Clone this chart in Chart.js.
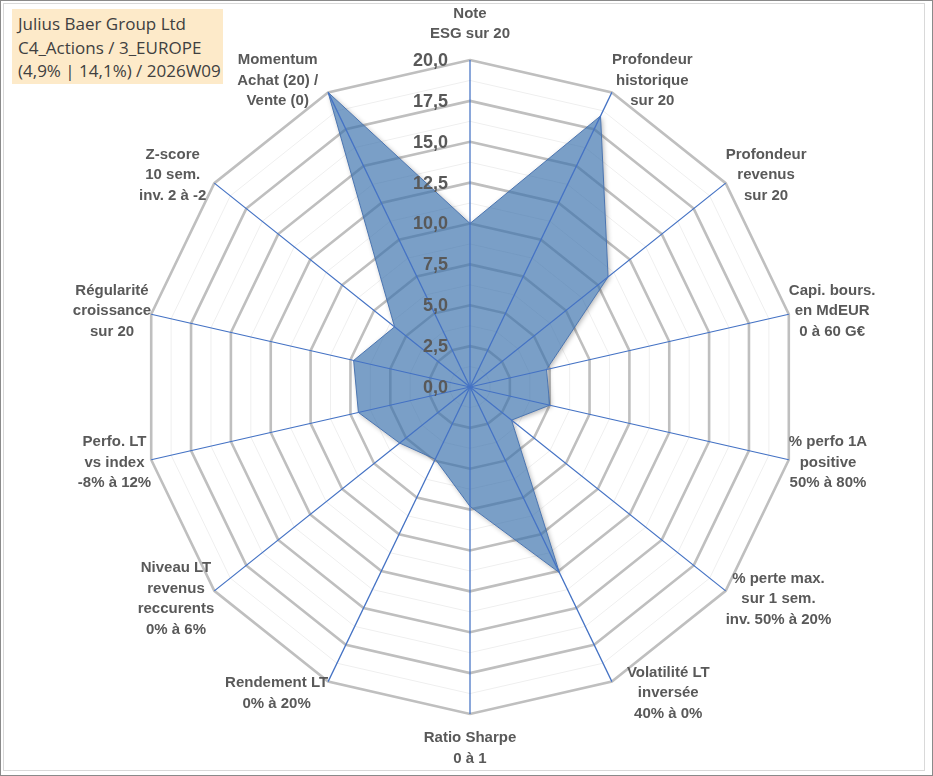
<!DOCTYPE html>
<html><head><meta charset="utf-8">
<script src="https://cdn.jsdelivr.net/npm/chart.js@4.4.1/dist/chart.umd.min.js"></script>
<style>
html,body{margin:0;padding:0;background:#fff;}
#wrap{position:relative;width:933px;height:776px;overflow:hidden;background:#fff;}
#c{position:absolute;left:0;top:0;}
#outer{position:absolute;left:0;top:0;width:931px;height:774px;border:1px solid #8a8a8a;pointer-events:none;}
#inner{position:absolute;left:3px;top:3px;width:920px;height:766px;border:1px solid #d9d9d9;pointer-events:none;}
#title{position:absolute;left:12px;top:9px;width:211px;height:75px;background:#fdeac9;box-sizing:border-box;padding:3px 0 0 6px;font-family:"Open Sans",sans-serif;font-size:17px;line-height:23.5px;color:#404040;white-space:nowrap;}
</style></head>
<body>
<div id="wrap">
<canvas id="c" width="933" height="776"></canvas>
<div id="outer"></div><div id="inner"></div>
<div id="title">Julius Baer Group Ltd<br>C4_Actions / 3_EUROPE<br>(4,9% | 14,1%) / 2026W09</div>
</div>
<script>
const categories = [
  ['Note','ESG sur 20'],
  ['Profondeur','historique','sur 20'],
  ['Profondeur','revenus','sur 20'],
  ['Capi. bours.','en MdEUR','0 à 60 G€'],
  ['% perfo 1A','positive','50% à 80%'],
  ['% perte max.','sur 1 sem.','inv. 50% à 20%'],
  ['Volatilité LT','inversée','40% à 0%'],
  ['Ratio Sharpe','0 à 1'],
  ['Rendement LT','0% à 20%'],
  ['Niveau LT','revenus','reccurents','0% à 6%'],
  ['Perfo. LT','vs index','-8% à 12%'],
  ['Régularité','croissance','sur 20'],
  ['Z-score','10 sem.','inv. 2 à -2'],
  ['Momentum','Achat (20) /','Vente (0)']
];
const scores = [10.0, 18.4, 10.8, 4.8, 5.0, 3.25, 12.6, 7.3, 4.9, 5.5, 7.0, 7.3, 5.9, 20.0];
const tickValues = [0, 2.5, 5, 7.5, 10, 12.5, 15, 17.5, 20];
const tickLabels = ['0,0','2,5','5,0','7,5','10,0','12,5','15,0','17,5','20,0'];

const labelNudgeX = [0,0,0,0,0,0,15,0,0,0,0,0,-8,-10];
const LABEL_FONT = 'bold 15px "Liberation Sans", Arial, sans-serif';
const TICK_FONT = 'bold 18px "Liberation Sans", Arial, sans-serif';
const TEXT_COLOR = '#595959';

function isMajor(v){ return Math.abs(v/2.5 - Math.round(v/2.5)) < 1e-6; }

const shadowPlugin = {
  id: 'polyShadow',
  beforeDatasetsDraw(chart){
    const pts = chart.getDatasetMeta(0).data;
    const ctx = chart.ctx;
    ctx.save();
    ctx.beginPath();
    ctx.rect(0,0,chart.width,chart.height);
    pts.forEach((p,i)=> i ? ctx.lineTo(p.x,p.y) : ctx.moveTo(p.x,p.y));
    ctx.closePath();
    ctx.clip('evenodd');
    const off = 5000;
    ctx.shadowColor = 'rgba(0,0,0,0.30)';
    ctx.shadowBlur = 5;
    ctx.shadowOffsetX = off + 1.5;
    ctx.shadowOffsetY = 1.5;
    ctx.beginPath();
    pts.forEach((p,i)=> i ? ctx.lineTo(p.x-off,p.y) : ctx.moveTo(p.x-off,p.y));
    ctx.closePath();
    ctx.fillStyle = '#000';
    ctx.fill();
    ctx.restore();
  }
};

const overlayPlugin = {
  id: 'overlay',
  afterDatasetsDraw(chart){
    const scale = chart.scales.r;
    const ctx = chart.ctx;
    const n = categories.length;
    const R = scale.drawingArea;
    ctx.save();
    // angle lines on top of the fill
    ctx.strokeStyle = '#4472C4';
    ctx.lineWidth = 1.25;
    for (let i = 0; i < n; i++) {
      const p = scale.getPointPosition(i, R);
      ctx.beginPath();
      ctx.moveTo(scale.xCenter, scale.yCenter);
      ctx.lineTo(p.x, p.y);
      ctx.stroke();
    }
    // tick labels
    ctx.font = TICK_FONT;
    ctx.fillStyle = TEXT_COLOR;
    ctx.textAlign = 'right';
    ctx.textBaseline = 'middle';
    tickValues.forEach((v, k) => {
      const y = scale.yCenter - scale.getDistanceFromCenterForValue(v);
      ctx.fillText(tickLabels[k], scale.xCenter - 22, y + 1);
    });
    // point labels
    ctx.font = LABEL_FONT;
    ctx.textAlign = 'center';
    const lh = 20.5;
    for (let i = 0; i < n; i++) {
      const lines = categories[i];
      const p = scale.getPointPosition(i, R);
      const ang = i * 2 * Math.PI / n;
      const w = Math.max(...lines.map(s => ctx.measureText(s).width));
      const h = lines.length * lh;
      let cx, firstY;
      if (i === 0) {
        cx = p.x;
        firstY = p.y - 26 - (lines.length - 1) * lh;
      } else if (i === n / 2) {
        cx = p.x;
        firstY = p.y + 24;
      } else {
        const cy = p.y - 13 * Math.cos(ang);
        firstY = cy - h / 2 + lh / 2;
        if (Math.sin(ang) > 0) cx = p.x + labelNudgeX[i] + w / 2;
        else cx = p.x + labelNudgeX[i] - w / 2;
      }
      lines.forEach((s, k) => ctx.fillText(s, cx, firstY + k * lh));
    }
    ctx.restore();
  }
};

new Chart(document.getElementById('c'), {
  type: 'radar',
  data: {
    labels: categories,
    datasets: [{
      data: scores,
      backgroundColor: 'rgba(59,114,173,0.68)',
      borderColor: '#4a74b0',
      borderWidth: 1,
      pointRadius: 0,
      fill: true
    }]
  },
  options: {
    responsive: false,
    animation: false,
    devicePixelRatio: window.devicePixelRatio || 1,
    layout: { padding: { left: 143, right: 136, top: 60, bottom: 62 } },
    plugins: { legend: { display: false }, tooltip: { enabled: false } },
    elements: { line: { tension: 0 } },
    scales: {
      r: {
        min: 0, max: 20,
        ticks: { stepSize: 1.25, display: false },
        pointLabels: { display: false },
        angleLines: { display: false },
        grid: {
          circular: false,
          color: (c) => isMajor(c.tick.value) ? '#BFBFBF' : '#EFEFEF',
          lineWidth: (c) => isMajor(c.tick.value) ? 2.6 : 1
        }
      }
    }
  },
  plugins: [shadowPlugin, overlayPlugin]
});
</script>
</body></html>
